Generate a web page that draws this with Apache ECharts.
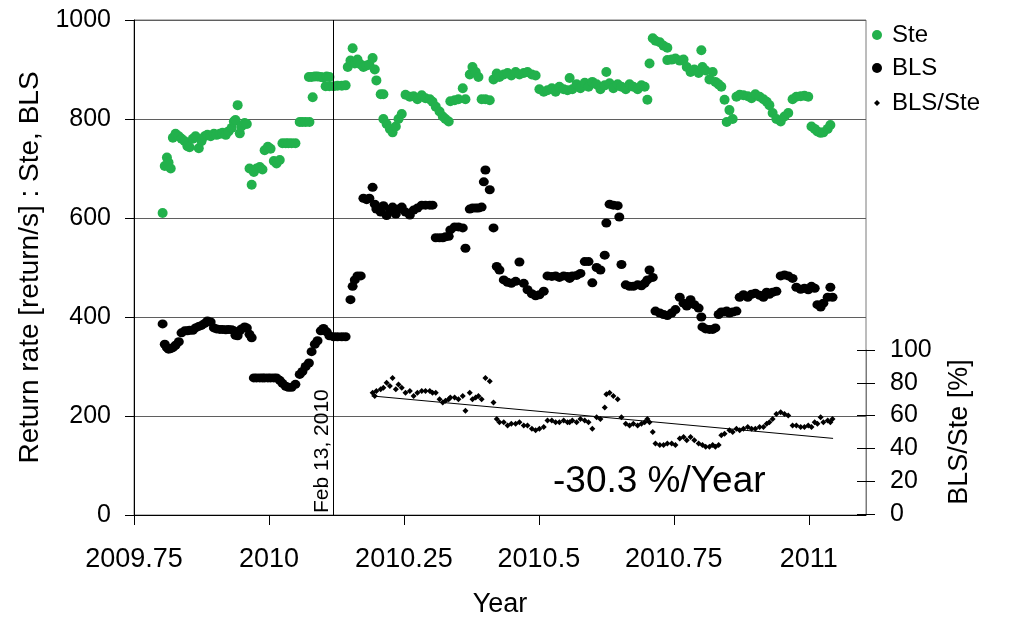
<!DOCTYPE html>
<html>
<head>
<meta charset="utf-8">
<script src="https://cdn.jsdelivr.net/npm/echarts@6/dist/echarts.min.js"></script>
<style>html,body{margin:0;padding:0;background:#fff}#c{width:1012px;height:618px}</style>
</head>
<body>
<div id="c"></div>
<script>
// x tick values of the main axis (years)
const xTicks = [2009.75, 2010, 2010.25, 2010.5, 2010.75, 2011];
const leftTicks = [0, 200, 400, 600, 800, 1000];
const rightTicks = [0, 20, 40, 60, 80, 100];
const eventYear = 2010.119;        // Feb 13, 2010
const eventLabel = 'Feb 13, 2010';
const slopeLabel = '-30.3 %/Year';

// Ste return rate [return/s]
const ste = [[2009.803,610],[2009.807,705],[2009.811,722],[2009.814,712],[2009.818,700],[2009.822,762],[2009.827,770],[2009.833,765],[2009.838,760],[2009.844,755],[2009.849,745],[2009.853,743],[2009.859,760],[2009.864,765],[2009.870,741],[2009.875,755],[2009.881,765],[2009.886,768],[2009.892,765],[2009.898,770],[2009.903,768],[2009.909,770],[2009.914,772],[2009.920,768],[2009.925,775],[2009.931,782],[2009.935,795],[2009.938,798],[2009.942,828],[2009.946,771],[2009.949,785],[2009.955,792],[2009.959,790],[2009.964,700],[2009.968,667],[2009.972,693],[2009.977,700],[2009.983,703],[2009.988,698],[2009.992,737],[2009.998,744],[2010.003,740],[2010.009,715],[2010.014,710],[2010.020,717],[2010.025,751],[2010.031,751],[2010.036,751],[2010.042,751],[2010.049,751],[2010.057,794],[2010.062,794],[2010.068,794],[2010.075,794],[2010.081,844],[2010.074,885],[2010.079,885],[2010.085,886],[2010.090,886],[2010.096,885],[2010.101,884],[2010.107,886],[2010.112,885],[2010.105,866],[2010.112,866],[2010.120,866],[2010.127,867],[2010.135,867],[2010.142,868],[2010.146,905],[2010.151,918],[2010.155,943],[2010.159,912],[2010.164,920],[2010.170,910],[2010.175,905],[2010.181,908],[2010.186,910],[2010.192,923],[2010.196,900],[2010.199,878],[2010.207,850],[2010.212,850],[2010.212,800],[2010.218,790],[2010.224,780],[2010.229,773],[2010.235,785],[2010.240,800],[2010.246,810],[2010.253,849],[2010.261,845],[2010.268,846],[2010.275,840],[2010.283,848],[2010.290,842],[2010.298,840],[2010.303,835],[2010.309,825],[2010.316,815],[2010.322,805],[2010.327,800],[2010.333,795],[2010.336,836],[2010.344,838],[2010.351,840],[2010.359,862],[2010.364,840],[2010.372,890],[2010.377,905],[2010.383,895],[2010.388,885],[2010.394,840],[2010.401,840],[2010.409,838],[2010.416,880],[2010.422,892],[2010.427,885],[2010.435,890],[2010.442,893],[2010.449,888],[2010.457,895],[2010.464,890],[2010.472,893],[2010.479,895],[2010.487,890],[2010.494,888],[2010.501,860],[2010.509,855],[2010.516,858],[2010.524,862],[2010.531,855],[2010.538,865],[2010.546,860],[2010.553,858],[2010.557,883],[2010.562,860],[2010.570,870],[2010.577,862],[2010.585,873],[2010.592,865],[2010.599,875],[2010.607,870],[2010.614,860],[2010.622,868],[2010.625,895],[2010.631,872],[2010.638,862],[2010.646,870],[2010.653,865],[2010.661,860],[2010.668,870],[2010.675,865],[2010.683,860],[2010.690,868],[2010.696,865],[2010.701,839],[2010.705,912],[2010.711,963],[2010.716,958],[2010.724,955],[2010.731,948],[2010.738,944],[2010.738,919],[2010.746,920],[2010.753,922],[2010.761,918],[2010.768,920],[2010.774,905],[2010.781,895],[2010.788,900],[2010.796,893],[2010.801,939],[2010.803,905],[2010.809,898],[2010.816,880],[2010.822,895],[2010.827,875],[2010.833,870],[2010.838,865],[2010.844,839],[2010.848,794],[2010.853,818],[2010.859,800],[2010.866,845],[2010.872,849],[2010.879,848],[2010.887,846],[2010.894,842],[2010.901,850],[2010.909,845],[2010.916,840],[2010.922,835],[2010.927,828],[2010.933,812],[2010.940,800],[2010.948,795],[2010.955,805],[2010.962,812],[2010.970,840],[2010.977,845],[2010.985,846],[2010.992,847],[2010.999,845],[2011.005,785],[2011.011,780],[2011.016,775],[2011.022,772],[2011.027,773],[2011.035,780],[2011.040,788]];

// BLS return rate [return/s]
const bls = [[2009.803,386],[2009.807,345],[2009.811,338],[2009.814,335],[2009.818,336],[2009.822,338],[2009.827,343],[2009.833,350],[2009.838,368],[2009.844,372],[2009.849,372],[2009.853,373],[2009.859,373],[2009.864,378],[2009.870,381],[2009.875,383],[2009.881,387],[2009.886,392],[2009.892,390],[2009.898,378],[2009.903,376],[2009.909,375],[2009.914,375],[2009.920,374],[2009.925,375],[2009.931,374],[2009.935,372],[2009.938,363],[2009.942,362],[2009.946,372],[2009.949,376],[2009.955,380],[2009.959,378],[2009.964,365],[2009.968,358],[2009.972,277],[2009.977,277],[2009.983,277],[2009.988,277],[2009.992,277],[2009.998,277],[2010.003,277],[2010.009,277],[2010.014,277],[2010.020,272],[2010.025,266],[2010.031,260],[2010.036,258],[2010.042,258],[2010.049,264],[2010.057,284],[2010.062,290],[2010.068,300],[2010.074,307],[2010.079,330],[2010.085,345],[2010.090,352],[2010.096,372],[2010.101,377],[2010.107,370],[2010.112,362],[2010.120,360],[2010.127,360],[2010.135,360],[2010.142,360],[2010.151,435],[2010.155,462],[2010.159,475],[2010.164,483],[2010.170,483],[2010.175,640],[2010.181,637],[2010.186,640],[2010.192,662],[2010.196,628],[2010.199,618],[2010.207,612],[2010.212,625],[2010.218,605],[2010.224,617],[2010.229,622],[2010.235,608],[2010.240,618],[2010.246,622],[2010.253,612],[2010.261,606],[2010.268,616],[2010.275,620],[2010.283,626],[2010.290,626],[2010.298,626],[2010.303,626],[2010.309,560],[2010.316,560],[2010.322,560],[2010.327,562],[2010.333,563],[2010.336,576],[2010.344,582],[2010.351,582],[2010.359,580],[2010.364,539],[2010.372,618],[2010.377,620],[2010.383,620],[2010.388,620],[2010.394,622],[2010.398,673],[2010.401,697],[2010.409,657],[2010.416,580],[2010.422,502],[2010.427,495],[2010.435,475],[2010.442,470],[2010.449,468],[2010.457,472],[2010.464,511],[2010.472,468],[2010.479,455],[2010.487,447],[2010.494,443],[2010.501,445],[2010.509,452],[2010.516,483],[2010.524,482],[2010.531,483],[2010.538,480],[2010.546,483],[2010.553,482],[2010.557,478],[2010.562,483],[2010.570,484],[2010.577,488],[2010.585,512],[2010.592,512],[2010.599,469],[2010.607,500],[2010.614,495],[2010.622,525],[2010.625,590],[2010.631,628],[2010.638,626],[2010.646,625],[2010.649,602],[2010.653,506],[2010.661,465],[2010.668,462],[2010.675,462],[2010.683,465],[2010.690,463],[2010.696,468],[2010.701,475],[2010.705,495],[2010.711,480],[2010.716,412],[2010.724,408],[2010.731,405],[2010.738,403],[2010.746,408],[2010.753,415],[2010.761,440],[2010.768,428],[2010.774,422],[2010.781,435],[2010.788,425],[2010.796,418],[2010.801,400],[2010.803,380],[2010.809,376],[2010.816,375],[2010.822,375],[2010.827,378],[2010.833,405],[2010.838,410],[2010.844,410],[2010.848,412],[2010.853,408],[2010.859,410],[2010.866,412],[2010.872,440],[2010.879,445],[2010.887,440],[2010.894,446],[2010.901,448],[2010.909,444],[2010.916,440],[2010.922,450],[2010.927,446],[2010.933,450],[2010.940,452],[2010.948,483],[2010.955,485],[2010.962,483],[2010.970,478],[2010.977,460],[2010.985,456],[2010.992,458],[2010.999,455],[2011.005,462],[2011.011,458],[2011.016,425],[2011.022,420],[2011.027,428],[2011.035,440],[2011.040,460],[2011.044,440]];

// BLS/Ste [%]
const ratio = [[2010.192,74],[2010.196,72],[2010.199,75],[2010.207,76],[2010.212,77],[2010.218,80],[2010.224,78],[2010.229,83],[2010.235,76],[2010.240,79],[2010.246,77],[2010.253,74],[2010.261,75],[2010.268,72],[2010.275,74],[2010.283,75],[2010.290,75],[2010.298,75],[2010.303,74],[2010.309,74],[2010.316,70],[2010.322,68],[2010.327,69],[2010.333,70],[2010.336,71],[2010.344,71],[2010.351,70],[2010.359,72],[2010.364,63],[2010.372,74],[2010.377,70],[2010.383,71],[2010.388,72],[2010.394,70],[2010.401,83],[2010.409,81],[2010.416,68],[2010.422,58],[2010.427,56],[2010.435,56],[2010.442,54],[2010.449,55],[2010.457,55],[2010.464,56],[2010.472,54],[2010.479,54],[2010.487,52],[2010.494,51],[2010.501,52],[2010.509,53],[2010.516,57],[2010.524,57],[2010.531,56],[2010.538,56],[2010.546,57],[2010.553,56],[2010.557,56],[2010.562,57],[2010.570,56],[2010.577,58],[2010.585,57],[2010.592,56],[2010.599,52],[2010.607,59],[2010.614,58],[2010.622,65],[2010.625,73],[2010.631,74],[2010.638,72],[2010.646,70],[2010.653,59],[2010.661,55],[2010.668,54],[2010.675,55],[2010.683,54],[2010.690,55],[2010.696,56],[2010.701,58],[2010.705,56],[2010.711,50],[2010.716,43],[2010.724,42],[2010.731,42],[2010.738,43],[2010.746,43],[2010.753,42],[2010.761,46],[2010.768,47],[2010.774,45],[2010.781,47],[2010.788,45],[2010.796,43],[2010.803,42],[2010.809,41],[2010.816,41],[2010.822,42],[2010.827,41],[2010.833,42],[2010.838,48],[2010.844,49],[2010.853,51],[2010.859,50],[2010.866,52],[2010.872,51],[2010.879,52],[2010.887,53],[2010.894,52],[2010.901,52],[2010.909,53],[2010.916,53],[2010.922,55],[2010.927,56],[2010.933,58],[2010.940,61],[2010.948,62],[2010.955,61],[2010.962,60],[2010.970,54],[2010.977,54],[2010.985,53],[2010.992,53],[2010.999,54],[2011.005,53],[2011.011,56],[2011.016,55],[2011.022,59],[2011.027,56],[2011.035,57],[2011.040,56],[2011.044,58]];

// linear trend of BLS/Ste (end points)
const trend = [[2010.190,72.0],[2011.045,46.1]];

const FONT = '"Liberation Sans", Arial, Helvetica, sans-serif';
const GREEN = '#22b14c';
const GRIDC = '#5f5f5f';

const chart = echarts.init(document.getElementById('c'), null, {renderer:'canvas'});
const xCommon = {
  type:'value', min:xTicks[0], max:2011.106, interval:0.25
};
chart.setOption({
  animation:false,
  backgroundColor:'#fff',
  textStyle:{fontFamily:FONT, color:'#000'},
  grid:[
    {left:134, right:146, top:20, bottom:103, show:true, borderColor:'#7a7a7a', borderWidth:1, containLabel:false, outerBoundsMode:'none'},
    {left:134, right:146, top:350, bottom:104, containLabel:false, outerBoundsMode:'none'}
  ],
  xAxis:[
    Object.assign({}, xCommon, {gridIndex:0,
      name:'Year', nameLocation:'middle', nameGap:76,
      nameTextStyle:{fontSize:27, color:'#000', fontFamily:FONT},
      axisLine:{show:true, lineStyle:{color:'#000', width:1}},
      axisTick:{show:true, inside:false, length:10, lineStyle:{color:'#000'}},
      axisLabel:{fontSize:27, color:'#000', margin:31, fontFamily:FONT, showMaxLabel:false,
        formatter:v => xTicks.includes(+v.toFixed(2)) ? String(+v.toFixed(2)) : ''},
      splitLine:{show:false}
    }),
    Object.assign({}, xCommon, {gridIndex:1, show:false})
  ],
  yAxis:[
    {type:'value', gridIndex:0, min:leftTicks[0], max:leftTicks[leftTicks.length-1], interval:200, position:'left',
      name:'Return rate [return/s] : Ste, BLS', nameLocation:'middle', nameGap:78, nameRotate:90,
      nameTextStyle:{fontSize:28, color:'#000', fontFamily:FONT},
      axisLine:{show:true, lineStyle:{color:'#000', width:1}},
      axisTick:{show:true, length:9, lineStyle:{color:'#000'}},
      axisLabel:{fontSize:25, color:'#000', margin:23, fontFamily:FONT, formatter:v => String(v)},
      splitLine:{show:true, lineStyle:{color:GRIDC, width:1}}
    },
    {type:'value', gridIndex:1, min:rightTicks[0], max:rightTicks[rightTicks.length-1], interval:20, position:'right',
      name:'BLS/Ste [%]', nameLocation:'middle', nameGap:80, nameRotate:90,
      nameTextStyle:{fontSize:27, color:'#000', fontFamily:FONT},
      axisLine:{show:true, lineStyle:{color:'#7a7a7a', width:1}},
      axisTick:{show:true, inside:false, length:9, lineStyle:{color:'#000'}},
      axisLabel:{fontSize:25, color:'#000', margin:24, fontFamily:FONT, formatter:v => String(v)},
      splitLine:{show:false}
    },
    {type:'value', gridIndex:1, min:rightTicks[0], max:rightTicks[rightTicks.length-1], interval:20, position:'right',
      axisLine:{show:false},
      axisTick:{show:true, inside:true, length:9, lineStyle:{color:'#000'}},
      axisLabel:{show:false}, splitLine:{show:false}
    }
  ],
  legend:[
    {data:['Ste'], orient:'vertical', left:872, top:23, padding:0, icon:'circle', itemWidth:10, itemHeight:10,
      textStyle:{fontSize:24, color:'#000', fontFamily:FONT, padding:[0,0,0,5]}},
    {data:['BLS'], orient:'vertical', left:872, top:56, padding:0, icon:'circle', itemWidth:10, itemHeight:10,
      textStyle:{fontSize:24, color:'#000', fontFamily:FONT, padding:[0,0,0,5]}},
    {data:['BLS/Ste'], orient:'vertical', left:874, top:91, padding:0, icon:'diamond', itemWidth:6, itemHeight:6,
      textStyle:{fontSize:24, color:'#000', fontFamily:FONT, padding:[0,0,0,7]}}
  ],
  graphic:[
    {type:'text', left:553, top:463, style:{text:slopeLabel, font:'37px ' + FONT, fill:'#000'}}
  ],
  series:[
    {name:'Ste', type:'scatter', xAxisIndex:0, yAxisIndex:0, data:ste, symbol:'circle', symbolSize:10,
      itemStyle:{color:GREEN, opacity:1}, z:3,
      markLine:{silent:true, symbol:['none','none'], animation:false,
        lineStyle:{color:'#000', width:1, type:'solid'},
        label:{show:true, position:'insideStartTop', formatter:eventLabel, fontSize:21, color:'#000', fontFamily:FONT, distance:[2,1]},
        data:[{xAxis:eventYear}]}
    },
    {name:'BLS', type:'scatter', xAxisIndex:0, yAxisIndex:0, data:bls, symbol:'circle', symbolSize:[10,9],
      itemStyle:{color:'#000', opacity:1}, z:3},
    {name:'BLS/Ste', type:'scatter', xAxisIndex:1, yAxisIndex:1, data:ratio, symbol:'diamond', symbolSize:6,
      itemStyle:{color:'#000', opacity:1}, z:4},
    {name:'trend', type:'line', xAxisIndex:1, yAxisIndex:1, data:trend, symbol:'none',
      lineStyle:{color:'#000', width:1}, z:4}
  ]
});
</script>
</body>
</html>
